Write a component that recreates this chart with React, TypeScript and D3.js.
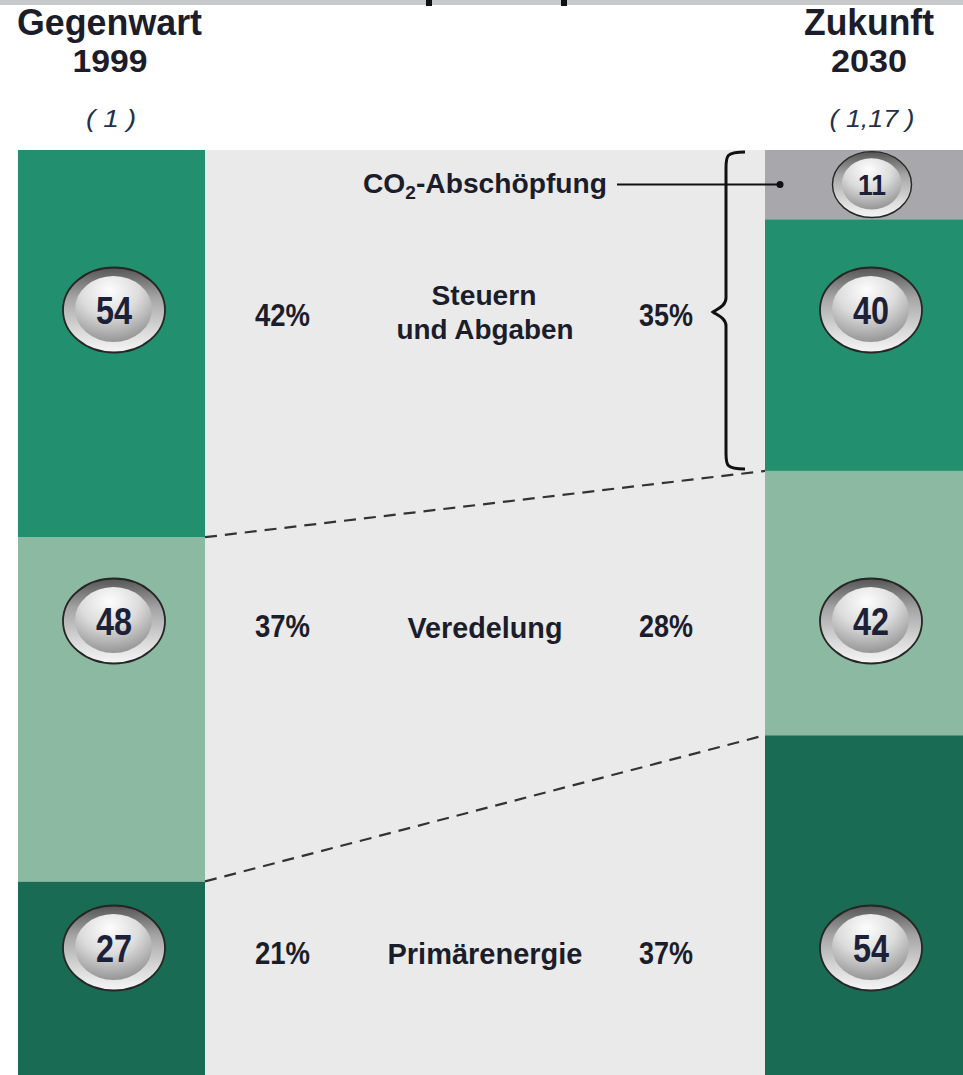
import React from "react";
import * as d3 from "d3";

// ---- data ----
const headers = ["Gegenwart", "Zukunft"];
const years = ["1999", "2030"];
const indexLabels = ["( 1 )", "( 1,17 )"];
const categories = ["Primärenergie", "Veredelung", "Steuern und Abgaben", "CO2-Abschöpfung"];
const values1999 = [27, 48, 54, 0];
const values2030 = [54, 42, 40, 11];
const shares1999 = ["21%", "37%", "42%"];
const shares2030 = ["37%", "28%", "35%"];

// ---- styles / layout ----
const W = 963, H = 1075;
const chartTop = 150, chartBottom = 1075;
const leftCol = [18, 205];
const rightCol = [765, 963];
const segColors = ["#1a6b53", "#8cb9a2", "#228f6e", "#a8a7ab"];
const midBg = "#eaeaea";
const rowY = [948, 621, 310];
const badgeX = [114, 871];
const FONT = "'Liberation Sans Narrow', 'Arial Narrow', 'Liberation Sans', Arial, sans-serif";
const textCol = "#1c1d2a";

function stack(vals: number[]) {
  let c = 0;
  return vals.map((v) => {
    const s = { y0: c, y1: c + v, v };
    c += v;
    return s;
  });
}

function Badge({ cx, cy, value, s = 1 }: { cx: number; cy: number; value: number; s?: number }) {
  return (
    <g transform={`translate(${cx},${cy}) scale(${s})`}>
      <ellipse rx={51} ry={42.5} fill="url(#rimGrad)" stroke="#262626" strokeWidth={1.8} />
      <ellipse cx={-0.5} cy={-1} rx={38.5} ry={33} fill="url(#innerGrad)" />
      <text
        x={0}
        y={14}
        textAnchor="middle"
        fontFamily={FONT}
        fontWeight="bold"
        fontSize={39}
        fill="#1d2138"
        textLength={36}
        lengthAdjust="spacingAndGlyphs"
      >
        {value}
      </text>
    </g>
  );
}

export default function App() {
  React.useEffect(() => {
    document.body.style.margin = "0";
  }, []);
  const sL = stack(values1999);
  const sR = stack(values2030);
  const yL = d3.scaleLinear().domain([0, d3.sum(values1999)]).range([chartBottom, chartTop]);
  const yR = d3.scaleLinear().domain([0, d3.sum(values2030)]).range([chartBottom, chartTop]);

  const pctX = [282.5, 666];
  const labelX = 485;

  // brace geometry derived from right stack (CO2 + Steuern)
  const braceTop = yR(sR[3].y1) + 2;
  const braceBot = yR(sR[2].y0) - 2;
  const bx = 726, bTip = 713, bEnd = 745;
  const bMid = rowY[2] + 2;
  const bracePath = `M${bEnd},${braceTop} C${bx},${braceTop} ${bx},${braceTop + 4} ${bx},${braceTop + 16}
    L${bx},${bMid - 14} C${bx},${bMid - 6} ${bTip + 4},${bMid - 3} ${bTip},${bMid}
    C${bTip + 4},${bMid + 3} ${bx},${bMid + 6} ${bx},${bMid + 14} L${bx},${braceBot - 16}
    C${bx},${braceBot - 4} ${bx},${braceBot} ${bEnd},${braceBot}`;

  const co2Y = (yR(sR[3].y0) + yR(sR[3].y1)) / 2;

  return (
    <svg width={W} height={H} style={{ position: "absolute", left: 0, top: 0, display: "block" }}>
      <defs>
        <linearGradient id="rimGrad" x1="0" y1="0" x2="0" y2="1">
          <stop offset="0" stopColor="#555" />
          <stop offset="0.35" stopColor="#a4a4a4" />
          <stop offset="0.75" stopColor="#dadada" />
          <stop offset="1" stopColor="#f6f6f6" />
        </linearGradient>
        <radialGradient id="innerGrad" cx="0.45" cy="0.22" r="0.85">
          <stop offset="0" stopColor="#fdfdfd" />
          <stop offset="0.45" stopColor="#dcdcdc" />
          <stop offset="1" stopColor="#8a8a8a" />
        </radialGradient>
      </defs>
      <rect x={0} y={0} width={W} height={H} fill="#ffffff" />
      {/* top strip */}
      <rect x={0} y={0} width={W} height={5} fill="#c6c8c9" />
      <rect x={426} y={0} width={6} height={6} fill="#111" />
      <rect x={561} y={0} width={6} height={6} fill="#111" />

      {/* middle background */}
      <rect x={leftCol[1]} y={chartTop} width={rightCol[0] - leftCol[1]} height={chartBottom - chartTop} fill={midBg} />

      {/* columns */}
      {sL.map((d, i) =>
        d.v > 0 ? (
          <rect key={"l" + i} x={leftCol[0]} y={yL(d.y1)} width={leftCol[1] - leftCol[0]} height={yL(d.y0) - yL(d.y1)} fill={segColors[i]} />
        ) : null
      )}
      {sR.map((d, i) =>
        d.v > 0 ? (
          <rect key={"r" + i} x={rightCol[0]} y={yR(d.y1)} width={rightCol[1] - rightCol[0]} height={yR(d.y0) - yR(d.y1)} fill={segColors[i]} />
        ) : null
      )}

      {/* dashed connectors */}
      {[0, 1].map((i) => (
        <line
          key={"dl" + i}
          x1={leftCol[1]}
          y1={yL(sL[i].y1)}
          x2={rightCol[0]}
          y2={yR(sR[i].y1)}
          stroke="#333"
          strokeWidth={2.2}
          strokeDasharray="12,8"
        />
      ))}

      {/* headers */}
      <g fontFamily={FONT} fontWeight="bold" fill={textCol}>
        <text x={17} y={35} fontSize={36} textLength={185} lengthAdjust="spacingAndGlyphs">{headers[0]}</text>
        <text x={110} y={72} fontSize={31} textAnchor="middle" textLength={75} lengthAdjust="spacingAndGlyphs">{years[0]}</text>
        <text x={934} y={35} fontSize={36} textAnchor="end" textLength={130} lengthAdjust="spacingAndGlyphs">{headers[1]}</text>
        <text x={869} y={72} fontSize={31} textAnchor="middle" textLength={76} lengthAdjust="spacingAndGlyphs">{years[1]}</text>
      </g>
      <g fontFamily={FONT} fontStyle="italic" fill="#24304a">
        <text x={111} y={127} fontSize={24} textAnchor="middle" textLength={50} lengthAdjust="spacingAndGlyphs">{indexLabels[0]}</text>
        <text x={872} y={127} fontSize={24} textAnchor="middle" textLength={85} lengthAdjust="spacingAndGlyphs">{indexLabels[1]}</text>
      </g>

      {/* middle labels */}
      <g fontFamily={FONT} fontWeight="bold" fill={textCol} fontSize={31}>
        {shares1999.map((s, i) => (
          <text key={"p1" + i} x={pctX[0]} y={rowY[i] + 16} textAnchor="middle" textLength={55} lengthAdjust="spacingAndGlyphs">{s}</text>
        ))}
        {shares2030.map((s, i) => (
          <text key={"p2" + i} x={pctX[1]} y={rowY[i] + 16} textAnchor="middle" textLength={54} lengthAdjust="spacingAndGlyphs">{s}</text>
        ))}
        <text x={labelX} y={rowY[0] + 16} textAnchor="middle" fontSize={30} textLength={195} lengthAdjust="spacingAndGlyphs">{categories[0]}</text>
        <text x={labelX} y={rowY[1] + 17} textAnchor="middle" fontSize={30} textLength={155} lengthAdjust="spacingAndGlyphs">{categories[1]}</text>
        <text x={labelX - 1} y={rowY[2] - 5} textAnchor="middle" fontSize={28} textLength={105} lengthAdjust="spacingAndGlyphs">{categories[2].split(" ")[0]}</text>
        <text x={labelX} y={rowY[2] + 29} textAnchor="middle" fontSize={28} textLength={177} lengthAdjust="spacingAndGlyphs">{categories[2].split(" ").slice(1).join(" ")}</text>
        <text x={363} y={co2Y + 8} fontSize={28} textLength={244} lengthAdjust="spacingAndGlyphs">
          <tspan>CO</tspan>
          <tspan fontSize={19} dy={6}>2</tspan>
          <tspan dy={-6}>-Abschöpfung</tspan>
        </text>
      </g>

      {/* CO2 leader + brace */}
      <line x1={617} y1={co2Y} x2={780} y2={co2Y} stroke="#111" strokeWidth={2} />
      <circle cx={780} cy={co2Y} r={3.5} fill="#111" />
      <path d={bracePath} fill="none" stroke="#111" strokeWidth={3} />

      {/* badges */}
      {[0, 1, 2].map((i) => (
        <Badge key={"bl" + i} cx={badgeX[0]} cy={rowY[i]} value={values1999[i]} />
      ))}
      {[0, 1, 2].map((i) => (
        <Badge key={"br" + i} cx={badgeX[1]} cy={rowY[i]} value={values2030[i]} />
      ))}
      <Badge cx={badgeX[1] + 1} cy={co2Y} value={values2030[3]} s={0.775} />
    </svg>
  );
}
